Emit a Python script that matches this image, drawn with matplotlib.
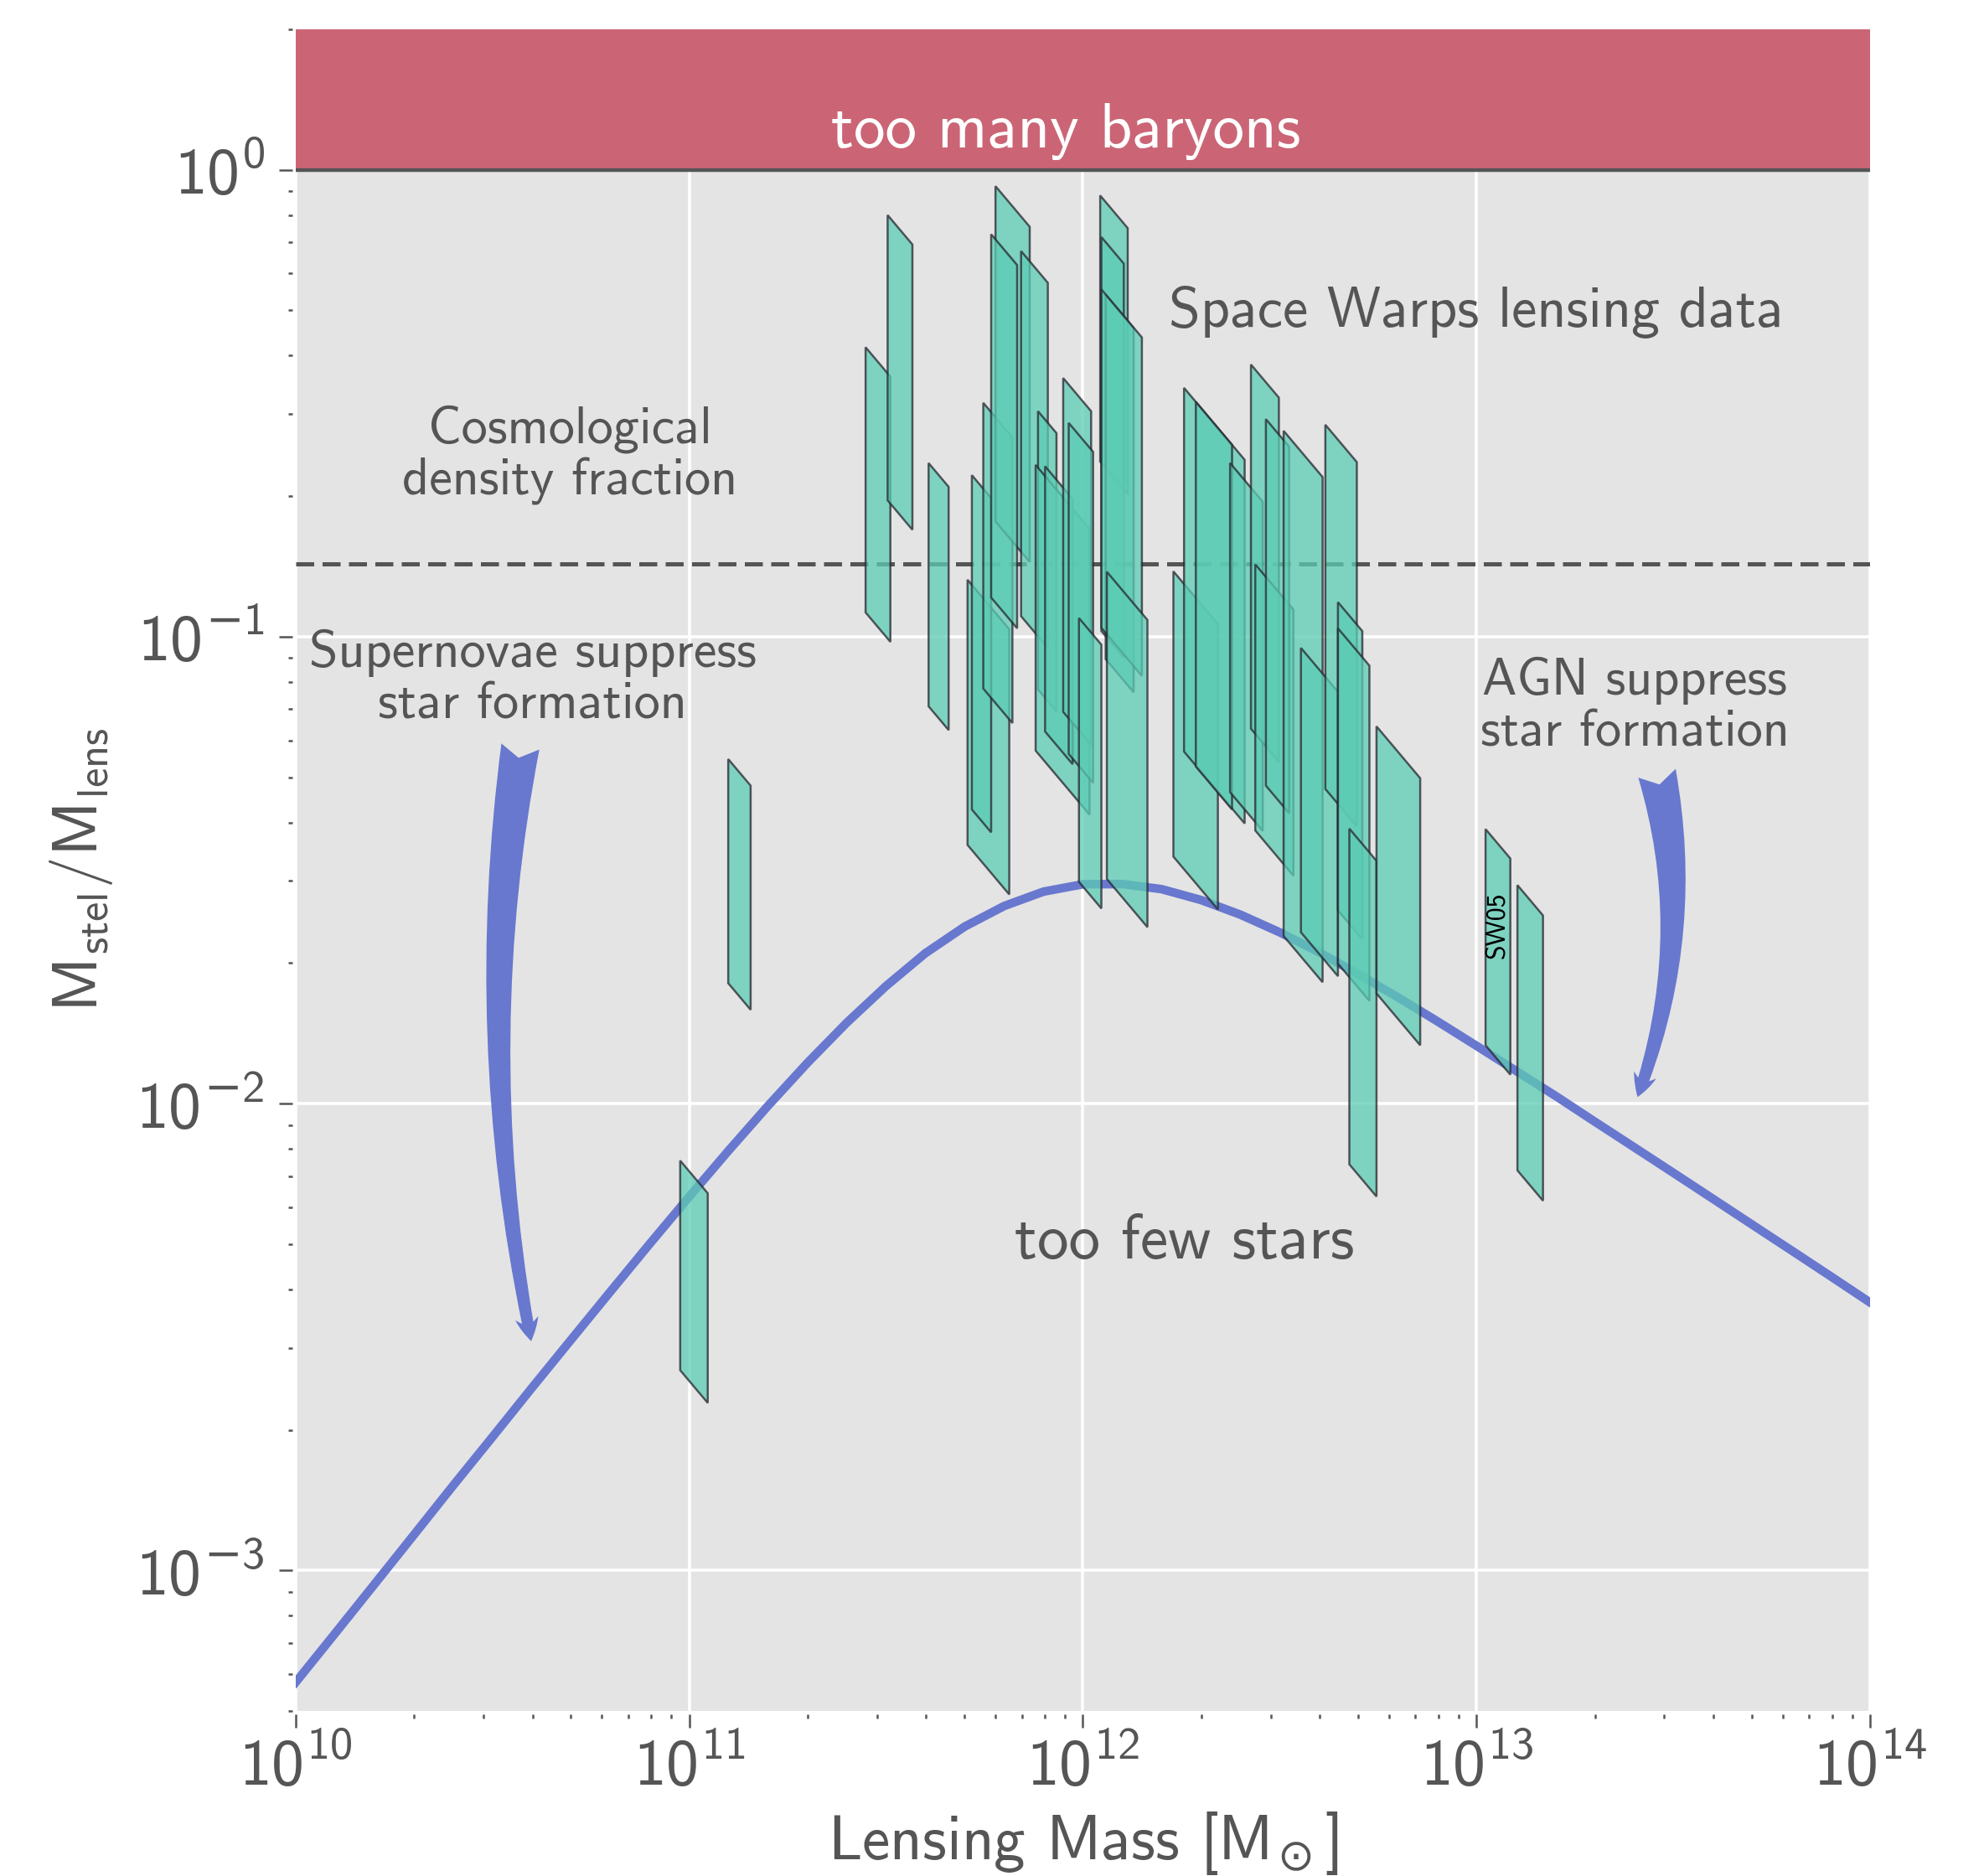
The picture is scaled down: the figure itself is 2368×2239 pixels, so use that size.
import matplotlib.pyplot as plt
import matplotlib.ticker as mticker
import numpy as np

plt.rcParams['font.family'] = 'cmss10'
plt.rcParams['mathtext.fontset'] = 'custom'
plt.rcParams['mathtext.rm'] = 'DejaVu Sans'
plt.rcParams['mathtext.sf'] = 'cmss10'
plt.rcParams['mathtext.it'] = 'cmss10'
plt.rcParams['mathtext.bf'] = 'cmss10'
plt.rcParams['axes.unicode_minus'] = False

# lens systems: log10 lensing mass range and log10 stellar mass range [M_sun]
lens_lo = [10.977, 11.099, 11.448, 11.504, 11.608, 11.707, 11.718, 11.747, 11.778, 11.767,
           11.843, 11.886, 11.880, 11.904, 11.950, 11.964, 11.990, 12.044, 12.047, 12.058,
           12.047, 12.061, 12.230, 12.257, 12.287, 12.374, 12.427, 12.438, 12.465, 12.510,
           12.554, 12.616, 12.648, 12.648, 12.677, 12.746, 13.023, 13.104]
lens_hi = [11.047, 11.156, 11.511, 11.567, 11.659, 11.813, 11.767, 11.821, 11.865, 11.833,
           11.911, 11.933, 12.017, 11.974, 12.021, 12.026, 12.047, 12.114, 12.104, 12.129,
           12.150, 12.164, 12.343, 12.411, 12.379, 12.457, 12.498, 12.535, 12.524, 12.609,
           12.648, 12.696, 12.710, 12.728, 12.746, 12.857, 13.086, 13.169]
stel_lo = [8.406, 9.357, 10.500, 10.796, 10.459, 10.261, 10.348, 10.636, 11.025, 10.851,
           10.887, 10.773, 10.636, 10.701, 10.789, 10.713, 10.465, 11.419, 11.059, 11.010,
           11.066, 10.542, 10.759, 11.011, 11.009, 11.041, 11.230, 11.023, 11.146, 10.869,
           10.921, 11.290, 11.062, 10.948, 10.547, 10.982, 11.148, 10.961]
stel_hi = [8.855, 9.837, 11.068, 11.407, 10.980, 10.829, 11.064, 11.248, 11.743, 11.629,
           11.669, 11.369, 11.248, 11.269, 11.504, 11.422, 11.030, 11.989, 11.903, 11.790,
           11.791, 11.200, 11.370, 11.790, 11.790, 11.746, 12.010, 11.593, 11.931, 11.951,
           11.530, 12.070, 11.722, 11.666, 11.266, 11.554, 11.611, 11.572]

# stellar-to-halo mass relation
curve_logm = [10.0, 10.1, 10.2, 10.3, 10.4, 10.5, 10.6, 10.7, 10.8, 10.9, 11.0, 11.1, 11.2,
              11.3, 11.4, 11.5, 11.6, 11.7, 11.8, 11.9, 12.0, 12.1, 12.2, 12.3, 12.4, 12.5,
              12.6, 12.7, 12.8, 12.9, 13.0, 13.1, 13.2, 13.3, 13.4, 13.5, 13.6, 13.7, 13.8,
              13.9, 14.0]
curve_frac = [5.76e-4, 7.33e-4, 9.34e-4, 1.191e-3, 1.52e-3, 1.932e-3, 2.46e-3, 3.123e-3,
              3.96e-3, 5.013e-3, 6.32e-3, 7.934e-3, 9.89e-3, 0.01222, 0.0149, 0.01786,
              0.0210, 0.02395, 0.0265, 0.02845, 0.0295, 0.02953, 0.0288, 0.0273, 0.0254,
              0.02328, 0.0211, 0.01893, 0.0169, 0.01502, 0.0133, 0.01176, 0.0104, 9.156e-3,
              8.07e-3, 7.11e-3, 6.26e-3, 5.509e-3, 4.85e-3, 4.267e-3, 3.75e-3]

baryon_frac = 0.143

grey = '#555555'
blue = '#6878CF'

fig = plt.figure(figsize=(11.84, 11.195), dpi=200)
ax = fig.add_axes([0.149, 0.0879, 0.7936, 0.8965])
ax.set_facecolor('#E4E4E4')

ax.axhspan(1, 2, color='#CB6575', lw=0, zorder=1)
ax.axhline(1, color=grey, lw=1.6, zorder=2)
ax.axhline(baryon_frac, color=grey, lw=1.8, ls=(0, (4.3, 2.0)), zorder=2)
ax.plot(10.0 ** np.array(curve_logm), curve_frac, color=blue, lw=3.7, zorder=3)

for l1, l2, s1, s2 in zip(lens_lo, lens_hi, stel_lo, stel_hi):
    m = 10.0 ** np.array([l1, l1, l2, l2])
    ms = 10.0 ** np.array([s2, s1, s1, s2])
    ax.fill(m, ms / m, facecolor='#5CCCB4', edgecolor='#26262E', alpha=0.75, lw=0.9, zorder=4)

# curved arrows
ax.annotate('', xy=(10 ** 10.5985, 3.10e-3), xytext=(10 ** 10.571, 0.0582),
            arrowprops=dict(arrowstyle='fancy,head_length=1.0,head_width=1.0,tail_width=1.65',
                            connectionstyle='arc3,rad=0.09', color=blue, lw=0,
                            mutation_scale=10, shrinkA=0, shrinkB=0))
ax.annotate('', xy=(10 ** 13.409, 0.01033), xytext=(10 ** 13.4585, 0.0510),
            arrowprops=dict(arrowstyle='fancy,head_length=1.0,head_width=1.0,tail_width=1.65',
                            connectionstyle='arc3,rad=-0.15', color=blue, lw=0,
                            mutation_scale=10, shrinkA=0, shrinkB=0))

ax.text(10 ** 11.957, 1.206, 'too many baryons', color='white', fontsize=27, ha='center', va='center')
ax.text(1e13, 0.495, 'Space Warps lensing data', color=grey, fontsize=24.5, ha='center', va='center')
ax.text(10 ** 10.697, 0.245, 'Cosmological\ndensity fraction', color=grey, fontsize=22.4,
        ha='center', va='center', linespacing=1.12)
ax.text(10 ** 10.602, 0.0813, 'Supernovae suppress\nstar formation', color=grey, fontsize=22.4,
        ha='center', va='center', linespacing=1.12)
ax.text(10 ** 13.402, 0.0708, 'AGN suppress\nstar formation', color=grey, fontsize=22.4,
        ha='center', va='center', linespacing=1.12)
ax.text(10 ** 12.259, 5.05e-3, 'too few stars', color=grey, fontsize=27, ha='center', va='center')
ax.text(10 ** 13.053, 10 ** -1.618, 'SW05', color='black', fontsize=11.5, rotation=90,
        ha='center', va='center', zorder=6)

ax.set_xscale('log')
ax.set_yscale('log')
ax.set_xlim(1e10, 1e14)
ax.set_ylim(5e-4, 2)


def sci_label(v, pos):
    e = int(round(np.log10(v)))
    sign = '-' if e < 0 else ''
    return r'$\mathsf{10}^{%s\mathsf{%d}}$' % (sign, abs(e))


ax.xaxis.set_major_formatter(mticker.FuncFormatter(sci_label))
ax.yaxis.set_major_formatter(mticker.FuncFormatter(sci_label))

for sp in ax.spines.values():
    sp.set_visible(False)
ax.spines['left'].set_position(('outward', 1.5))
ax.spines['bottom'].set_position(('outward', 1.5))

ax.grid(True, which='major', color='white', lw=1.3)
ax.set_axisbelow(True)
ax.tick_params(which='major', direction='out', length=5.8, width=0.9, color=grey,
               labelcolor=grey, labelsize=28)
ax.tick_params(axis='x', which='major', pad=3.5)
ax.tick_params(axis='y', which='major', pad=6)
ax.tick_params(which='minor', direction='out', length=1.8, width=0.9, color=grey)

ax.set_xlabel(r'Lensing Mass [$\mathsf{M}_{\!\odot}$]', fontsize=27, color=grey, labelpad=5)
ax.set_ylabel(r'$\mathsf{M_{stel}/M_{lens}}$', fontsize=27, color=grey, labelpad=9)

plt.savefig('out.png', dpi=200)
plt.close()
